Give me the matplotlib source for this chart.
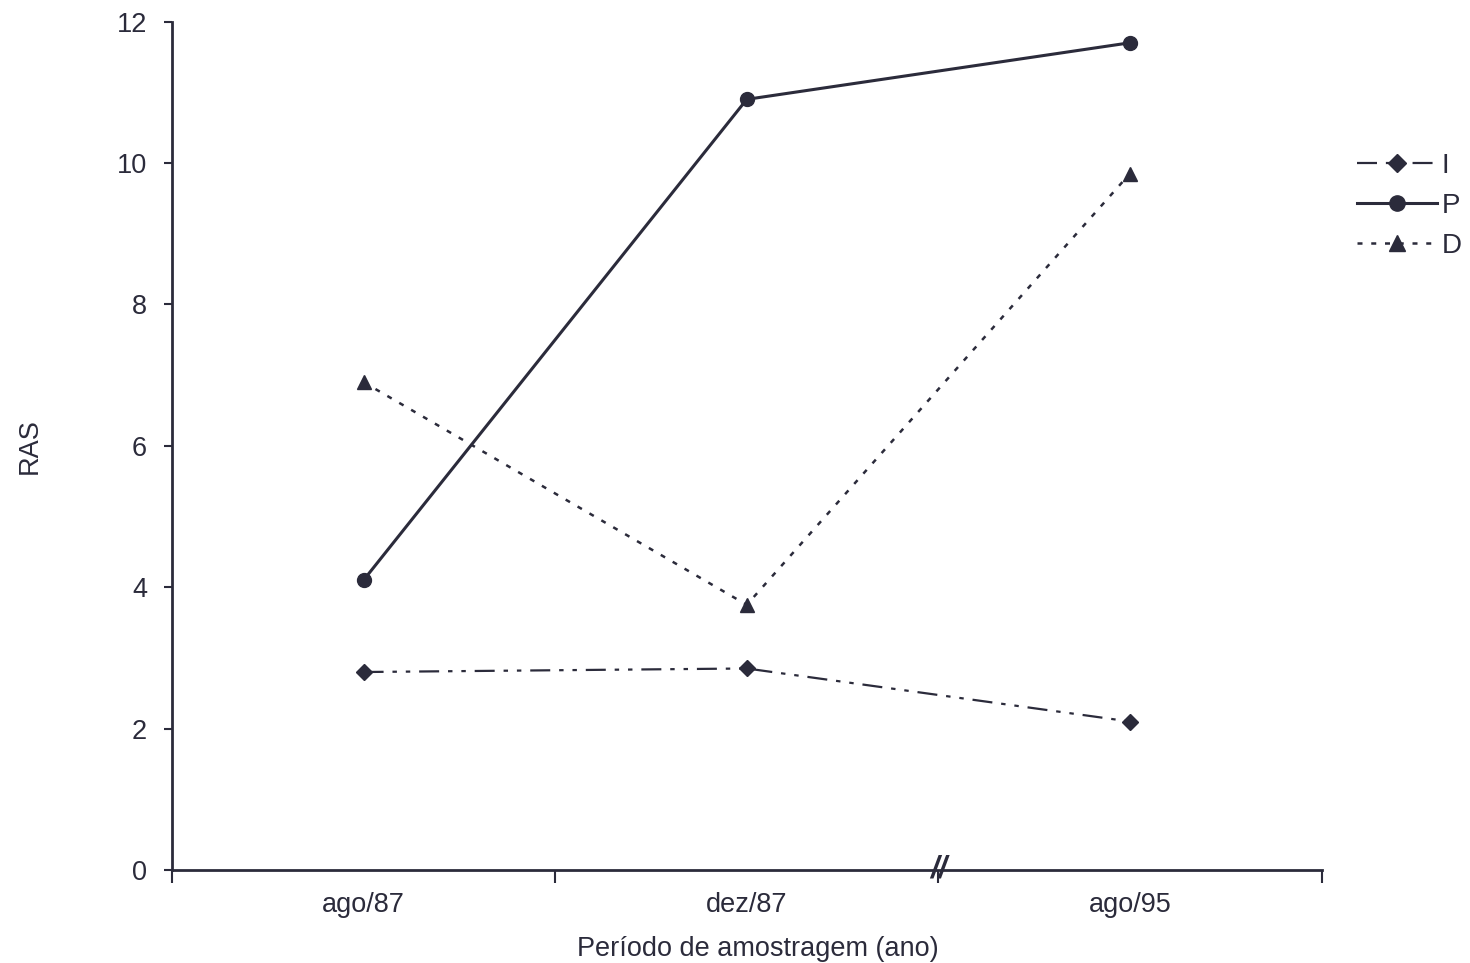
import matplotlib
matplotlib.use("Agg")
import matplotlib.pyplot as plt
import numpy as np

plt.rcParams['font.family'] = ['Liberation Sans', 'DejaVu Sans']

periods = ["ago/87", "dez/87", "ago/95"]
ras_i = [2.8, 2.85, 2.1]
ras_p = [4.1, 10.9, 11.7]
ras_d = [6.9, 3.75, 9.85]
y_ticks = [0, 2, 4, 6, 8, 10, 12]

ink = "#2b2b3b"
fs = 19.5

fig = plt.figure(figsize=(14.7, 9.63), dpi=100)
ax = fig.add_axes([0.117, 0.0966, 0.782, 0.881])

x = np.arange(len(periods)) + 0.5

ax.plot(x, ras_i, color=ink, lw=1.6, dashes=(9, 4, 2, 4, 2, 4),
        marker="D", ms=8, label="I")
ax.plot(x, ras_p, color=ink, lw=2.2, ls="-", marker="o", ms=10, label="P")
ax.plot(x, ras_d, color=ink, lw=1.8, ls=(0, (2, 3.5)), marker="^", ms=10,
        label="D")

ax.set_xlim(0, 3)
ax.set_ylim(0, 12)
ax.set_xticks([0, 1, 2, 3])
ax.set_xticklabels([])
ax.set_xticks(x, minor=True)
ax.set_xticklabels(periods, minor=True)
ax.tick_params(axis="x", which="minor", length=0, pad=16, labelsize=fs,
               colors=ink)
ax.tick_params(axis="x", which="major", length=9, width=1.5, color=ink,
               direction="out")
ax.set_yticks(y_ticks)
ax.tick_params(axis="y", length=6, width=1.5, color=ink, labelsize=fs,
               labelcolor=ink, pad=12)

for side in ("top", "right"):
    ax.spines[side].set_visible(False)
for side in ("left", "bottom"):
    ax.spines[side].set_color(ink)
    ax.spines[side].set_linewidth(2)

# axis break between the 1987 and 1995 samplings
ax.text(2.0, 0, "//", ha="center", va="center", fontsize=22, color=ink,
        fontstyle="italic", fontweight="bold", transform=ax.transData)

ax.set_ylabel("RAS", fontsize=fs, color=ink)
ax.set_xlabel("Período de amostragem (ano)", fontsize=fs, color=ink)
ax.xaxis.set_label_coords(0.51, -0.078)
ax.yaxis.set_label_coords(-0.112, 0.5)

leg = fig.legend(loc="upper left", bbox_to_anchor=(0.923, 0.841),
                 frameon=False, fontsize=20, handlelength=2.9,
                 handletextpad=0.15, labelspacing=0.5, borderaxespad=0,
                 borderpad=0, markerscale=1.1)
for t in leg.get_texts():
    t.set_color(ink)

fig.savefig("out.png", dpi=100, facecolor="white")
